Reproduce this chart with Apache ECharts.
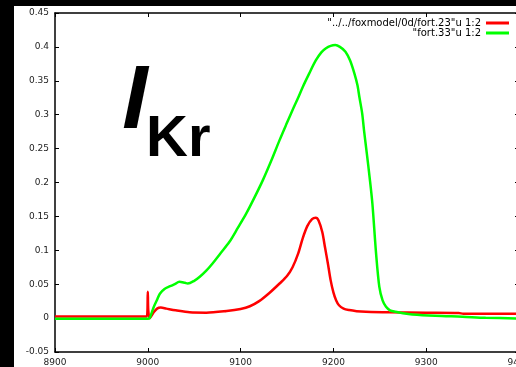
<!DOCTYPE html>
<html>
<head>
<meta charset="utf-8">
<script src="https://cdn.jsdelivr.net/npm/echarts@6/dist/echarts.min.js"></script>
<style>
html,body{margin:0;padding:0;background:#000;}
#c{width:516px;height:367px;}
</style>
</head>
<body>
<div id="c"></div>
<script>
// ---- data ----
const seriesNames = ['"../../foxmodel/0d/fort.23"u 1:2', '"fort.33"u 1:2'];
const xTicks = [8900, 9000, 9100, 9200, 9300, 9400];
const yTicks = [-0.05, 0, 0.05, 0.1, 0.15, 0.2, 0.25, 0.3, 0.35, 0.4, 0.45];

const redX = [8900, 8950, 8999, 9000, 9000.5, 9002, 9006, 9010, 9014, 9020, 9030, 9045, 9063, 9085, 9100, 9110, 9120, 9131, 9142, 9150, 9156, 9162, 9167, 9172, 9177, 9181, 9184, 9188, 9191, 9194, 9197, 9200, 9203, 9206, 9211, 9217, 9225, 9235, 9260, 9300, 9335, 9340, 9400];
const redY = [0.0025, 0.0025, 0.0025, 0.039, 0.012, 0.0, 0.008, 0.014, 0.0155, 0.014, 0.0115, 0.0085, 0.008, 0.0105, 0.0135, 0.0175, 0.025, 0.037, 0.051, 0.062, 0.075, 0.095, 0.118, 0.136, 0.146, 0.148, 0.144, 0.127, 0.104, 0.081, 0.056, 0.038, 0.026, 0.019, 0.014, 0.0118, 0.0102, 0.0093, 0.0085, 0.008, 0.0075, 0.0065, 0.0063];

const greenX = [8900, 9000, 9002, 9006, 9010, 9013, 9018, 9024, 9029, 9034, 9040, 9043, 9050, 9056, 9063, 9070, 9078, 9088, 9097, 9106, 9115, 9124, 9133, 9142, 9149, 9156, 9162, 9167, 9174, 9181, 9187, 9192, 9197, 9202, 9207, 9213, 9218, 9222.6, 9226, 9228, 9231, 9233, 9236, 9239, 9242, 9246, 9249.5, 9253, 9256.7, 9261, 9267, 9275, 9285, 9310, 9339, 9364, 9400];
const greenY = [-0.001, -0.001, 0.0, 0.015, 0.027, 0.036, 0.043, 0.047, 0.050, 0.0535, 0.052, 0.051, 0.055, 0.061, 0.070, 0.081, 0.095, 0.1125, 0.133, 0.154, 0.178, 0.2035, 0.232, 0.2625, 0.285, 0.307, 0.325, 0.341, 0.361, 0.380, 0.392, 0.398, 0.4015, 0.4027, 0.400, 0.393, 0.380, 0.361, 0.343, 0.326, 0.302, 0.277, 0.243, 0.208, 0.169, 0.095, 0.046, 0.026, 0.0167, 0.0115, 0.0093, 0.0072, 0.0054, 0.0034, 0.002, 0.0005, -0.0005];

const pairs = (xs, ys) => xs.map((x, i) => [x, ys[i]]);

const chart = echarts.init(document.getElementById('c'), null, {renderer: 'canvas'});
const axisFont = {fontFamily: 'DejaVu Sans', fontSize: 9, color: '#222'};
const lineBlack = {onZero: false, lineStyle: {color: '#000', width: 1.5}};
const tickIn = {show: true, inside: true, length: 4, lineStyle: {color: '#000', width: 1}};

chart.setOption({
  backgroundColor: '#000',
  animation: false,
  graphic: [
    {type: 'rect', z: -100, silent: true, shape: {x: 14, y: 6, width: 502, height: 361}, style: {fill: '#fff'}},
    {type: 'text', z: 100, x: 117, y: 58, originX: 0, originY: 74, skewX: -0.2,
     style: {text: 'I', fontFamily: 'Liberation Sans', fontWeight: 'bold', fontSize: 90, fill: '#000'}},
    {type: 'text', z: 100, x: 146, y: 111, style: {text: 'Kr', fontFamily: 'Liberation Sans', fontWeight: 'bold', fontSize: 58, fill: '#000'}}
  ],
  grid: {left: 55, top: 13, width: 464, height: 339, containLabel: false, outerBoundsMode: 'none'},
  legend: {
    orient: 'vertical', right: 7, top: 18, align: 'right',
    icon: 'rect', itemWidth: 23, itemHeight: 3, itemGap: 0,
    textStyle: {fontFamily: 'DejaVu Sans', fontSize: 10, color: '#000', lineHeight: 10, padding: [0, 0, 0, 0]},
    padding: 0,
    data: seriesNames
  },
  xAxis: [
    {type: 'value', min: xTicks[0], max: xTicks[xTicks.length - 1], interval: 100, position: 'bottom',
     axisLine: lineBlack, axisTick: tickIn,
     axisLabel: Object.assign({margin: 6, formatter: v => String(v)}, axisFont), splitLine: {show: false}},
    {type: 'value', min: xTicks[0], max: xTicks[xTicks.length - 1], interval: 100, position: 'top',
     axisLine: lineBlack, axisTick: tickIn,
     axisLabel: {show: false}, splitLine: {show: false}}
  ],
  yAxis: [
    {type: 'value', min: yTicks[0], max: yTicks[yTicks.length - 1], interval: 0.05, position: 'left',
     axisLine: lineBlack, axisTick: tickIn,
     axisLabel: Object.assign({margin: 6, formatter: v => String(Math.round(v * 100) / 100)}, axisFont), splitLine: {show: false}},
    {type: 'value', min: yTicks[0], max: yTicks[yTicks.length - 1], interval: 0.05, position: 'right',
     axisLine: lineBlack, axisTick: tickIn, axisLabel: {show: false}, splitLine: {show: false}}
  ],
  series: [
    {name: seriesNames[0], type: 'line', xAxisIndex: 0, yAxisIndex: 0, data: pairs(redX, redY), showSymbol: false, smooth: 0.3,
     lineStyle: {color: '#ff0000', width: 2.5}, itemStyle: {color: '#ff0000'}},
    {name: seriesNames[1], type: 'line', xAxisIndex: 0, yAxisIndex: 0, data: pairs(greenX, greenY), showSymbol: false, smooth: 0.3,
     lineStyle: {color: '#00ff00', width: 2.5}, itemStyle: {color: '#00ff00'}}
  ]
});
</script>
</body>
</html>
